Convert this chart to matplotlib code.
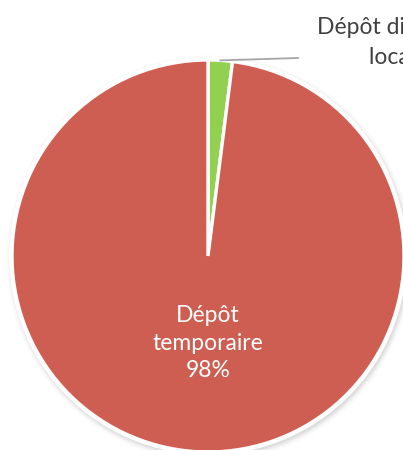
import numpy as np
import matplotlib
matplotlib.use("Agg")
import matplotlib.pyplot as plt
from matplotlib.patches import Circle

categories = ["Dépôt divers\nlocalisé", "Dépôt\ntemporaire"]
values = [2, 98]
colors = ["#92D050", "#CD5E51"]

W, H = 403, 450
fig = plt.figure(figsize=(W / 100, H / 100), dpi=100)
fig.patch.set_facecolor("white")
ax = fig.add_axes([0, 0, 1, 1])

cx, cy, R = 208, H - 256, 196

# soft shadow
for dr, a in [(7, 0.03), (5, 0.05), (3.5, 0.07), (2, 0.09)]:
    ax.add_patch(Circle((cx + 1.5, cy - 2.5), R + dr, color="#707070", alpha=a, lw=0, zorder=0))

wedges, _ = ax.pie(values, colors=colors, startangle=90, counterclock=False,
                   center=(cx, cy), radius=R,
                   wedgeprops=dict(edgecolor="white", linewidth=2.4))
for w in wedges:
    w.set_zorder(2)
ax.add_patch(Circle((cx, cy), R + 1.2, fill=False, ec="white", lw=2.2, zorder=3))

ax.set_xlim(0, W)
ax.set_ylim(0, H)
ax.set_aspect("equal")
ax.axis("off")

font = "Lato"
fs = 16.5
pct = [f"{v}%" for v in values]

# main label
ax.text(cx, H - 343, f"{categories[1]}\n{pct[1]}", ha="center", va="center",
        color="white", fontsize=fs, family=font, linespacing=1.36, zorder=5)

# leader line for small slice
theta = np.deg2rad(90 - values[0] / sum(values) * 360 / 2)
x0, y0 = cx + R * np.cos(theta), cy + R * np.sin(theta)
ax.plot([x0, 298], [y0, H - 58], color="#A6A6A6", lw=1.3, zorder=4)

lines = categories[0].split("\n")
ax.text(317, H - 28, lines[0], ha="left", va="center", color="#404040",
        fontsize=fs, family=font, zorder=5)
ax.text(369, H - 58, f"{lines[1]} {pct[0]}", ha="left", va="center", color="#404040",
        fontsize=fs, family=font, zorder=5)

fig.savefig("out.png", dpi=100, facecolor="white")
